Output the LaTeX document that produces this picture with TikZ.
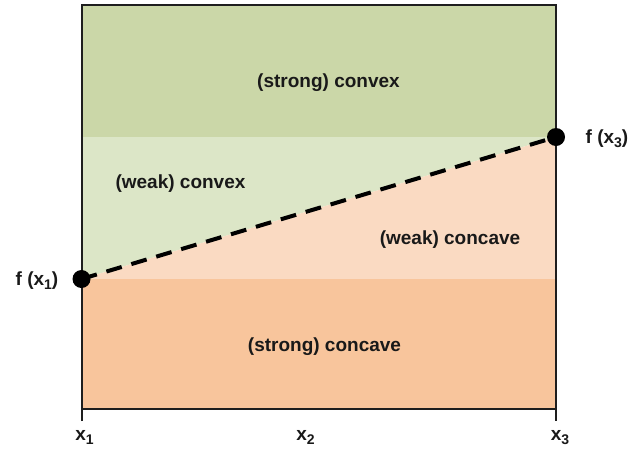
\documentclass[tikz,border=0pt]{standalone}
\usepackage{fontspec}
\setmainfont{Liberation Sans}
\definecolor{strongcvx}{RGB}{203,215,168}
\definecolor{weakcvx}{RGB}{220,230,199}
\definecolor{weakccv}{RGB}{250,218,194}
\definecolor{strongccv}{RGB}{248,197,156}
\definecolor{frame}{RGB}{30,30,30}
\newcommand\mysubidx[1]{\raisebox{-4.5pt}{\fontsize{14}{14}\selectfont #1}}
\begin{document}
\begin{tikzpicture}[x=1pt,y=-1pt,
  lbl/.style={font=\bfseries\fontsize{19}{22}\selectfont, inner sep=0pt, anchor=base, text=black!90},
  dot/.style={circle, fill=black, inner sep=0pt, minimum size=18pt},
  dashline/.style={line width=4pt, dash pattern=on 16pt off 10pt},
  frameline/.style={line width=2pt, draw=frame}]
\useasboundingbox (0,0) rectangle (629,448);
% corner coordinates
\coordinate (tl) at (81.5,4.5);
\coordinate (tr) at (556,4.5);
\coordinate (bl) at (81.5,409);
\coordinate (br) at (556,409);
\coordinate (c1) at (81.5,279);
\coordinate (c3) at (556,137);
\coordinate (m1) at (81.5,137);
\coordinate (m3) at (556,279);
\coordinate (t1) at (81.5,421);
\coordinate (t3) at (556,421);
% regions
\fill[strongcvx] (tl) rectangle (c3);
\fill[weakcvx] (m1) -- (c3) -- (c1) -- cycle;
\fill[weakccv] (c3) -- (m3) -- (c1) -- cycle;
\fill[strongccv] (c1) rectangle (br);
% frame
\draw[frameline] (t1) -- (tl) -- (tr) -- (t3);
\draw[frameline] (bl) -- (br);
% dashed line and points
\draw[dashline] (c1) -- (c3);
\node[dot] (p1) at (c1) {};
\node[dot] (p3) at (c3) {};
% region labels
\node[lbl] (sc) at (328.5,87) {(strong) convex};
\node[lbl] (wc) at (180.5,188) {(weak) convex};
\node[lbl] (wcc) at (450,244) {(weak) concave};
\node[lbl] (scc) at (324.5,351) {(strong) concave};
% point labels
\node[lbl] (f1) at (37,285) {f (x\mysubidx{1})};
\node[lbl] (f3) at (607,143) {f (x\mysubidx{3})};
% axis labels
\node[lbl] (x1) at (84.5,440) {x\mysubidx{1}};
\node[lbl] (x2) at (305.5,440) {x\mysubidx{2}};
\node[lbl] (x3) at (560,440) {x\mysubidx{3}};
\end{tikzpicture}
\end{document}
